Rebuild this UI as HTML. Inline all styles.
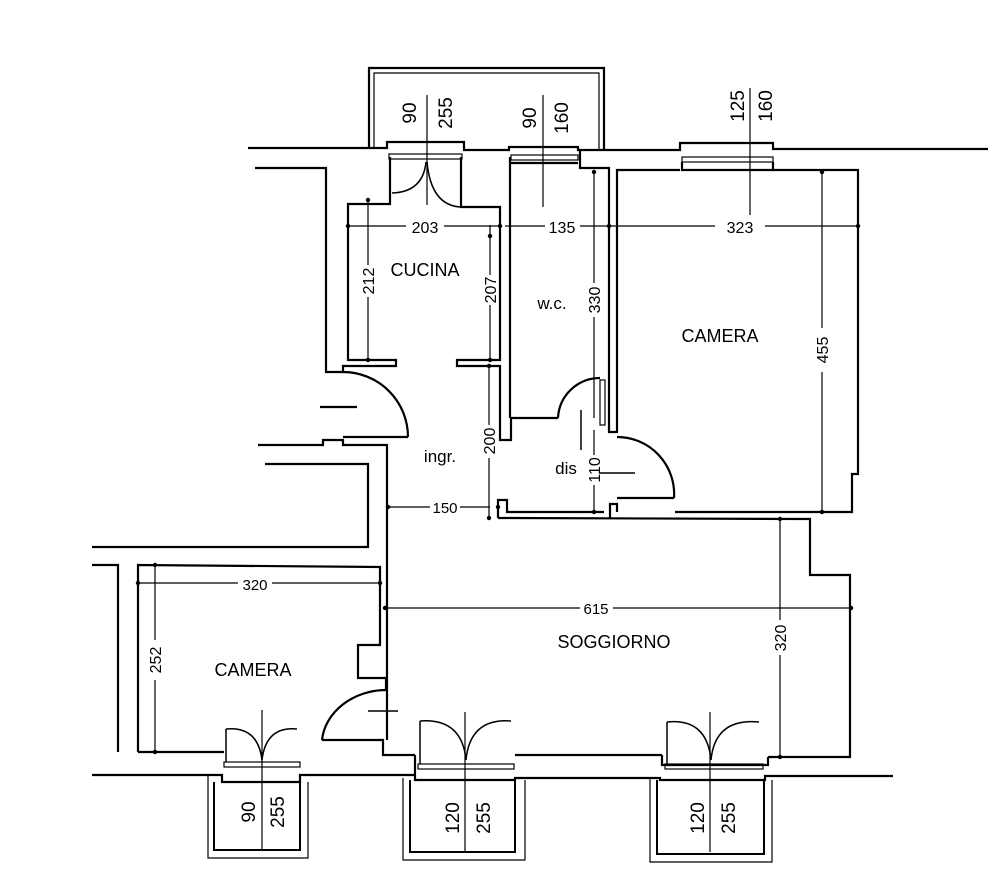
<!DOCTYPE html>
<html><head><meta charset="utf-8"><style>
html,body{margin:0;padding:0;background:#fff;}
svg{display:block}
text{font-family:"Liberation Sans",sans-serif;fill:#000;}
</style></head><body>
<svg width="988" height="882" viewBox="0 0 988 882" xmlns="http://www.w3.org/2000/svg">
<g fill="none" stroke="#000" stroke-width="2.2" stroke-linejoin="miter">
<polyline points="369,148 369,68 604,68 604,150"/>
<polyline points="374,148 374,73 599,73 599,150" stroke-width="1.2"/>
<polyline points="248,148 387,148 387,142 464,142 464,150 509,150 509,147 578,147 578,150 680,150 680,143 773,143 773,149 988,149"/>
<polyline points="390,157 390,165 390,204 348,204 348,360 396,360 396,366 343,366 343,372 326,372 326,168 255,168"/>
<rect x="389" y="154" width="73" height="5" stroke-width="1.2"/>
<polyline points="461,157 461,207 500,207 500,360 457,360 457,366 500,366 500,440 511,440 511,418 558,418"/>
<polyline points="510,157 510,418"/>
<rect x="511" y="155" width="67" height="5" stroke-width="1.2"/>
<line x1="511" y1="163" x2="578" y2="163"/>
<polyline points="580,150 580,168 609,168 609,432 617,432 617,170 680,170"/>
<rect x="600" y="380" width="5" height="45" stroke-width="1.2"/>
<rect x="682" y="157" width="91" height="5" stroke-width="1.2"/>
<polyline points="682,162 682,170 858,170 858,474 852,474 852,512 675,512"/>
<polyline points="773,162 773,170"/>
<polyline points="617,512 617,504 610,504 610,518"/>
<polyline points="498,518 498,500 507,500 507,512 604,512"/>
<polyline points="498,518 810,519 810,575 850,575 850,757 768,757"/>
<polyline points="343,437 408,437"/>
<path d="M343,372 A65,65 0 0 1 408,437"/>
<line x1="320" y1="407" x2="357" y2="407"/>
<polyline points="258,445 323,445 323,440 343,440 343,445 387,445 387,740"/>
<polyline points="265,464 368,464 368,547 92,547"/>
<path d="M558,418 A42,42 0 0 1 600,378"/>
<line x1="581" y1="410" x2="581" y2="450" stroke-width="1.5"/>
<path d="M617,437 A57,57 0 0 1 674,498"/>
<line x1="617" y1="498" x2="674" y2="498"/>
<line x1="600" y1="473" x2="635" y2="473" stroke-width="1.5"/>
<polyline points="92,565 118,565 118,752"/>
<polyline points="138,752 138,565 380,567 380,645 358,645 358,678 386,678 386,690"/>
<path d="M386,690 A65,55 0 0 0 322,740"/>
<polyline points="322,740 383,740 383,755 415,755"/>
<line x1="368" y1="711" x2="398" y2="711" stroke-width="1.5"/>
<polyline points="138,752 224,752"/>
<polyline points="92,775 222,775 222,782 300,782 300,775 415,775"/>
<polyline points="415,755 415,780 515,780 515,778 660,778 660,780 765,780 765,776 893,776"/>
<polyline points="515,755 662,755"/>
<polyline points="662,755 662,765 768,765 768,757"/>
<rect x="224" y="762" width="76" height="5" stroke-width="1.2"/>
<rect x="418" y="764" width="96" height="5" stroke-width="1.2"/>
<rect x="665" y="764" width="98" height="5" stroke-width="1.2"/>
<polyline points="226,762 226,729 M297,762 297,729" stroke-width="1.5"/>
<path d="M226,729 Q258,726 262,760 M297,729 Q266,726 262,760" stroke-width="1.5"/>
<polyline points="420,764 420,721 M511,764 511,721" stroke-width="1.5"/>
<path d="M420,721 Q462,718 466,760 M511,721 Q470,718 466,760" stroke-width="1.5"/>
<polyline points="667,764 667,722 M759,764 759,722" stroke-width="1.5"/>
<path d="M667,722 Q707,718 711,760 M759,722 Q715,718 711,760" stroke-width="1.5"/>
<path d="M392,193 Q423,192 426,162 M460,207 Q431,205 427,162" stroke-width="1.5"/>
<polyline points="208,775 208,858 308,858 308,782" stroke-width="1.2"/>
<polyline points="214,782 214,850 300,850 300,782" stroke-width="2"/>
<polyline points="403,778 403,860 525,860 525,780" stroke-width="1.2"/>
<polyline points="410,780 410,852 515,852 515,780" stroke-width="2"/>
<polyline points="650,778 650,862 772,862 772,780" stroke-width="1.2"/>
<polyline points="657,780 657,854 764,854 764,780" stroke-width="2"/>
</g>
<g stroke="#000" stroke-width="1.2" fill="none">
<line x1="348" y1="226" x2="406" y2="226"/><line x1="444" y1="226" x2="500" y2="226"/>
<line x1="505" y1="226" x2="545" y2="226"/><line x1="580" y1="226" x2="715" y2="226"/><line x1="765" y1="226" x2="858" y2="226"/>
<line x1="368" y1="200" x2="368" y2="265"/><line x1="368" y1="297" x2="368" y2="360"/>
<line x1="490" y1="225" x2="490" y2="275"/><line x1="490" y1="305" x2="490" y2="360"/>
<line x1="594" y1="172" x2="594" y2="283"/><line x1="594" y1="317" x2="594" y2="418"/>
<line x1="822" y1="172" x2="822" y2="328"/><line x1="822" y1="372" x2="822" y2="512"/>
<line x1="489" y1="366" x2="489" y2="425"/><line x1="489" y1="458" x2="489" y2="520"/>
<line x1="594" y1="430" x2="594" y2="455"/><line x1="594" y1="485" x2="594" y2="514"/>
<line x1="388" y1="507" x2="430" y2="507"/><line x1="460" y1="507" x2="490" y2="507"/>
<line x1="138" y1="583" x2="238" y2="583"/><line x1="272" y1="583" x2="380" y2="583"/>
<line x1="385" y1="608" x2="580" y2="608"/><line x1="613" y1="608" x2="851" y2="608"/>
<line x1="155" y1="565" x2="155" y2="640"/><line x1="155" y1="680" x2="155" y2="752"/>
<line x1="780" y1="518" x2="780" y2="620"/><line x1="780" y1="655" x2="780" y2="757"/>
<line x1="427" y1="95" x2="427" y2="205"/>
<line x1="543" y1="95" x2="543" y2="207"/>
<line x1="750" y1="88" x2="750" y2="215"/>
<line x1="262" y1="710" x2="262" y2="850"/>
<line x1="465" y1="712" x2="465" y2="852"/>
<line x1="710" y1="712" x2="710" y2="852"/>
</g>
<g fill="#000">
<circle cx="348" cy="226" r="2.2"/><circle cx="500" cy="226" r="2.2"/><circle cx="609" cy="226" r="2.2"/><circle cx="858" cy="226" r="2.2"/>
<circle cx="368" cy="200" r="2.2"/><circle cx="368" cy="360" r="2.2"/><circle cx="490" cy="236" r="2.2"/><circle cx="490" cy="360" r="2.2"/>
<circle cx="594" cy="172" r="2.2"/><circle cx="822" cy="172" r="2.2"/><circle cx="822" cy="512" r="2.2"/>
<circle cx="489" cy="366" r="2.2"/><circle cx="489" cy="518" r="2.2"/><circle cx="594" cy="512" r="2.2"/>
<circle cx="388" cy="507" r="2.2"/><circle cx="498" cy="507" r="2.2"/>
<circle cx="138" cy="583" r="2.2"/><circle cx="380" cy="583" r="2.2"/><circle cx="385" cy="608" r="2.2"/><circle cx="851" cy="608" r="2.2"/>
<circle cx="155" cy="565" r="2.2"/><circle cx="155" cy="752" r="2.2"/><circle cx="780" cy="519" r="2.2"/><circle cx="780" cy="757" r="2.2"/>
</g>
<g font-size="16">
<text x="425" y="233" text-anchor="middle">203</text>
<text x="562" y="233" text-anchor="middle">135</text>
<text x="740" y="233" text-anchor="middle">323</text>
<text x="445" y="513" font-size="15" text-anchor="middle">150</text>
<text x="255" y="590" font-size="15" text-anchor="middle">320</text>
<text x="596" y="614" font-size="15" text-anchor="middle">615</text>
<text transform="translate(374,281) rotate(-90) " text-anchor="middle">212</text>
<text transform="translate(496,290) rotate(-90)" text-anchor="middle">207</text>
<text transform="translate(600,300) rotate(-90)" text-anchor="middle">330</text>
<text transform="translate(828,350) rotate(-90)" text-anchor="middle">455</text>
<text transform="translate(495,441) rotate(-90)" text-anchor="middle">200</text>
<text transform="translate(600,470) rotate(-90)" text-anchor="middle">110</text>
<text transform="translate(161,660) rotate(-90)" text-anchor="middle">252</text>
<text transform="translate(786,638) rotate(-90)" text-anchor="middle">320</text>
</g>
<g font-size="19">
<text transform="translate(416,113) rotate(-90)" text-anchor="middle">90</text>
<text transform="translate(452,113) rotate(-90)" text-anchor="middle">255</text>
<text transform="translate(536,118) rotate(-90)" text-anchor="middle">90</text>
<text transform="translate(568,118) rotate(-90)" text-anchor="middle">160</text>
<text transform="translate(744,106) rotate(-90)" text-anchor="middle">125</text>
<text transform="translate(772,106) rotate(-90)" text-anchor="middle">160</text>
<text transform="translate(255,812) rotate(-90)" text-anchor="middle">90</text>
<text transform="translate(284,812) rotate(-90)" text-anchor="middle">255</text>
<text transform="translate(459,818) rotate(-90)" text-anchor="middle">120</text>
<text transform="translate(490,818) rotate(-90)" text-anchor="middle">255</text>
<text transform="translate(704,818) rotate(-90)" text-anchor="middle">120</text>
<text transform="translate(735,818) rotate(-90)" text-anchor="middle">255</text>
</g>
<g font-size="18">
<text x="425" y="276" text-anchor="middle">CUCINA</text>
<text x="552" y="309" text-anchor="middle" font-size="17">w.c.</text>
<text x="720" y="342" text-anchor="middle">CAMERA</text>
<text x="440" y="462" text-anchor="middle" font-size="17">ingr.</text>
<text x="566" y="474" text-anchor="middle" font-size="17">dis</text>
<text x="614" y="648" text-anchor="middle">SOGGIORNO</text>
<text x="253" y="676" text-anchor="middle">CAMERA</text>
</g>
</svg>
</body></html>
